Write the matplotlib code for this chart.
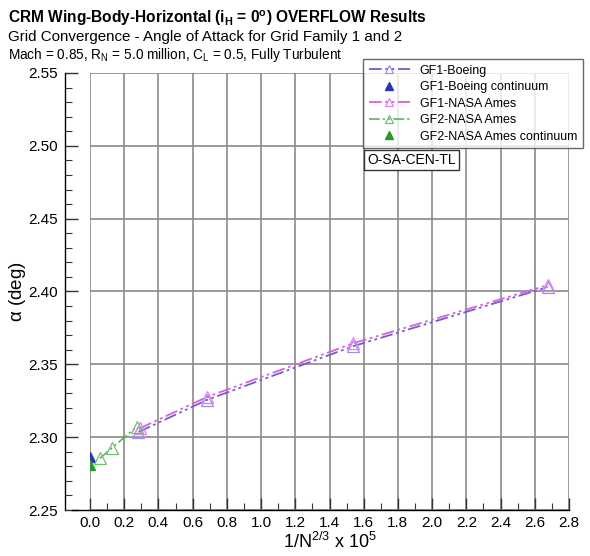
import matplotlib
matplotlib.use("Agg")
import matplotlib.pyplot as plt
from matplotlib.ticker import MultipleLocator, FormatStrFormatter
from matplotlib.lines import Line2D

plt.rcParams['font.family'] = ['Liberation Sans', 'DejaVu Sans']
plt.rcParams['mathtext.default'] = 'regular'

# grid family 1 (Boeing and NASA Ames), grid family 2 (NASA Ames)
gf1_boeing_x = [0.283, 0.682, 1.54, 2.675]
gf1_boeing_y = [2.3035, 2.3255, 2.3625, 2.4030]
gf1_nasa_x = [0.290, 0.682, 1.54, 2.680]
gf1_nasa_y = [2.3060, 2.3275, 2.3645, 2.4045]
gf2_nasa_x = [0.058, 0.127, 0.272]
gf2_nasa_y = [2.2855, 2.2925, 2.3070]

# extrapolated continuum values
gf1_boeing_cont = [0.0, 2.2865]
gf2_nasa_cont = [0.0, 2.2810]

x_ticks = [0.0, 0.2, 0.4, 0.6, 0.8, 1.0, 1.2, 1.4, 1.6, 1.8, 2.0, 2.2, 2.4, 2.6, 2.8]

fig = plt.figure(figsize=(5.9, 5.56), dpi=100)
ax = fig.add_axes([90/590, 1-510/556, 479/590, (510-73)/556])

dash = (0, (7, 2, 1.5, 2, 1.5, 2))
ax.plot(gf1_boeing_x, gf1_boeing_y, color='#6c5fd0', lw=1.3, ls=dash,
        marker='^', ms=8, mfc='none', mec='#9a8ef0', mew=0.9, label='GF1-Boeing')
ax.plot(*[[v] for v in gf1_boeing_cont], ls='none', marker='^', ms=7,
        color='#2a36b0', label='GF1-Boeing continuum')
ax.plot(gf1_nasa_x, gf1_nasa_y, color='#d860dc', lw=1.3, ls=dash,
        marker='^', ms=8, mfc='none', mec='#e080f0', mew=0.9, label='GF1-NASA Ames')
ax.plot(gf2_nasa_x, gf2_nasa_y, color='#50b050', lw=1.1, ls=dash,
        marker='^', ms=8, mfc='none', mec='#70c070', mew=0.9, label='GF2-NASA Ames')
ax.plot(*[[v] for v in gf2_nasa_cont], ls='none', marker='^', ms=7,
        color='#2a9a2a', label='GF2-NASA Ames continuum')

ax.set_xlim(0, 2.8)
ax.set_ylim(2.25, 2.55)
ax.set_xticks(x_ticks)
ax.xaxis.set_minor_locator(MultipleLocator(0.1))
ax.yaxis.set_major_locator(MultipleLocator(0.05))
ax.yaxis.set_minor_locator(MultipleLocator(0.01))
ax.xaxis.set_major_formatter(FormatStrFormatter('%.1f'))
ax.yaxis.set_major_formatter(FormatStrFormatter('%.2f'))
ax.grid(True, which='major', color='#8a8a8a', lw=1.2)
ax.set_axisbelow(True)

for s in ['top', 'right']:
    ax.spines[s].set_visible(False)
ax.spines['left'].set_position(('outward', 18))
ax.spines['left'].set_linewidth(1.0)
ax.spines['bottom'].set_linewidth(1.0)
ax.add_line(Line2D([-18/479, 0], [0, 0], transform=ax.transAxes,
                   color='black', lw=1.0, clip_on=False))

ax.tick_params(axis='both', which='major', direction='in', length=9,
               width=1, labelsize=11, color='#333333')
ax.tick_params(axis='both', which='minor', direction='in', length=5,
               width=0.8, color='#333333')
ax.tick_params(axis='y', pad=5)
ax.tick_params(axis='x', pad=4)

ax.set_ylabel(r'$\alpha$ (deg)', fontsize=13.5)
ax.yaxis.set_label_coords(-62/479, 0.5)
ax.set_xlabel(r'1/N$^{2/3}$ x 10$^{5}$', fontsize=13, labelpad=2)

fig.text(8/590, 1-18/556, r'CRM Wing-Body-Horizontal (i$_{H}$ = 0$^{o}$) OVERFLOW Results',
         fontsize=11.2, fontweight='bold', va='center', ha='left')
fig.text(8/590, 1-37/556, 'Grid Convergence - Angle of Attack for Grid Family 1 and 2',
         fontsize=10.9, va='center', ha='left')
fig.text(8/590, 1-55/556, r'Mach = 0.85, R$_{N}$ = 5.0 million, C$_{L}$ = 0.5, Fully Turbulent',
         fontsize=9.8, va='center', ha='left')

leg = fig.legend(loc='upper left', bbox_to_anchor=(363/590, 1-59/556),
                 fontsize=9, frameon=True, fancybox=False, handlelength=3.3,
                 labelspacing=0.36, borderpad=0.45, handletextpad=0.8,
                 borderaxespad=0, markerscale=0.8)
leg.get_frame().set_edgecolor('#444444')
leg.get_frame().set_linewidth(1.0)

fig.text(367/590, 1-160/556, 'O-SA-CEN-TL', fontsize=10, va='center', ha='left',
         bbox=dict(boxstyle='square,pad=0.25', fc='white', ec='#333333', lw=1.0))

fig.savefig('out.png', dpi=100)
